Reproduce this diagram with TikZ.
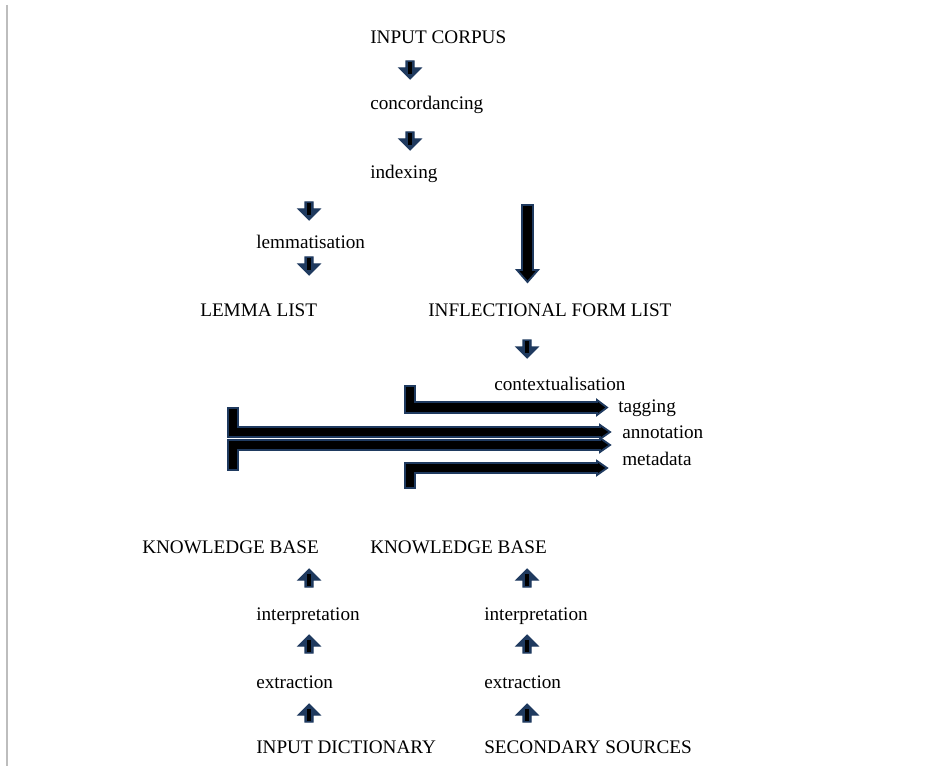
\documentclass[tikz,border=0pt]{standalone}
\usepackage{fontspec}
\setmainfont{Liberation Serif}
\usetikzlibrary{
		calc,
		positioning
	}
\definecolor{arrownavy}{HTML}{1F3A5F}
\definecolor{framegray}{HTML}{BDBDBD}
\tikzset{
		>=stealth,
		txt/.style={anchor=base west, inner sep=0pt, font=\fontsize{14.4}{17}\selectfont},
		blockarrow/.style={draw=arrownavy, fill=black, line width=1.4pt, line join=miter},
		pics/downarrow/.style={code={
			\filldraw[draw=arrownavy, fill=arrownavy, line width=0.8pt]
				(-4,-9) -- (4,-9) -- (4,-2) -- (11,-2) -- (0,9) -- (-11,-2) -- (-4,-2) -- cycle;
			\fill[black] (-2,-8) rectangle (2,4);
		}}
	}

\begin{document}
\begin{tikzpicture}[x=0.75pt, y=-0.75pt]
          \useasboundingbox (0,0) rectangle (948,766);
          \draw[framegray, line width=1.2pt] (7,5) -- (7,766);

          % top column
          \node[txt] (corpus) at (370,44) {INPUT CORPUS};
          \node[txt] (conc) at (370,110) {concordancing};
          \node[txt] (index) at (370,178.5) {indexing};
          \node[txt] (lemma) at (256,249) {lemmatisation};
          \node[txt] (lemlist) at (200,316) {LEMMA LIST};
          \node[txt] (inflist) at (428,316) {INFLECTIONAL FORM LIST};
          \node[txt] (context) at (494,390) {contextualisation};
          \node[txt] (tagging) at (618,412) {tagging};
          \node[txt] (annot) at (622,438) {annotation};
          \node[txt] (meta) at (622,465) {metadata};

          \pic at (410,70) {downarrow};
          \pic at (410,141) {downarrow};
          \pic at (309,211) {downarrow};
          \pic at (309,266) {downarrow};
          \pic at (527,349) {downarrow};

          % long arrow to the form list
          \filldraw[blockarrow] (522,205) -- (533,205) -- (533,270) -- (538,270) -- (527.5,282)
                -- (517,270) -- (522,270) -- cycle;

          % arrows into tagging, annotation, metadata
          \filldraw[blockarrow] (405,386) -- (415,386) -- (415,402) -- (597,402) -- (597,400)
                -- (607,407.5) -- (597,415) -- (597,413) -- (405,413) -- cycle;
          \filldraw[blockarrow] (228,408) -- (238,408) -- (238,427) -- (600,427) -- (600,425)
                -- (610,432) -- (600,439) -- (600,437) -- (228,437) -- cycle;
          \filldraw[blockarrow] (228,440) -- (600,440) -- (600,438) -- (610,445) -- (600,452)
                -- (600,450) -- (238,450) -- (238,470) -- (228,470) -- cycle;
          \filldraw[blockarrow] (405,463) -- (597,463) -- (597,461) -- (607,468) -- (597,475)
                -- (597,473) -- (415,473) -- (415,488) -- (405,488) -- cycle;

          % bottom columns
          \node[txt] (kbleft) at (142,553) {KNOWLEDGE BASE};
          \node[txt] (kbright) at (370,553) {KNOWLEDGE BASE};
          \node[txt] (interpl) at (256,620) {interpretation};
          \node[txt] (interpr) at (484,620) {interpretation};
          \node[txt] (extrl) at (256,688) {extraction};
          \node[txt] (extrr) at (484,688) {extraction};
          \node[txt] (dict) at (256,753) {INPUT DICTIONARY};
          \node[txt] (sources) at (484,753) {SECONDARY SOURCES};

          \foreach \ax in {309,527}{
            \pic[rotate=180] at (\ax,578) {downarrow};
            \pic[rotate=180] at (\ax,644) {downarrow};
            \pic[rotate=180] at (\ax,713) {downarrow};
          }
\end{tikzpicture}
\end{document}
